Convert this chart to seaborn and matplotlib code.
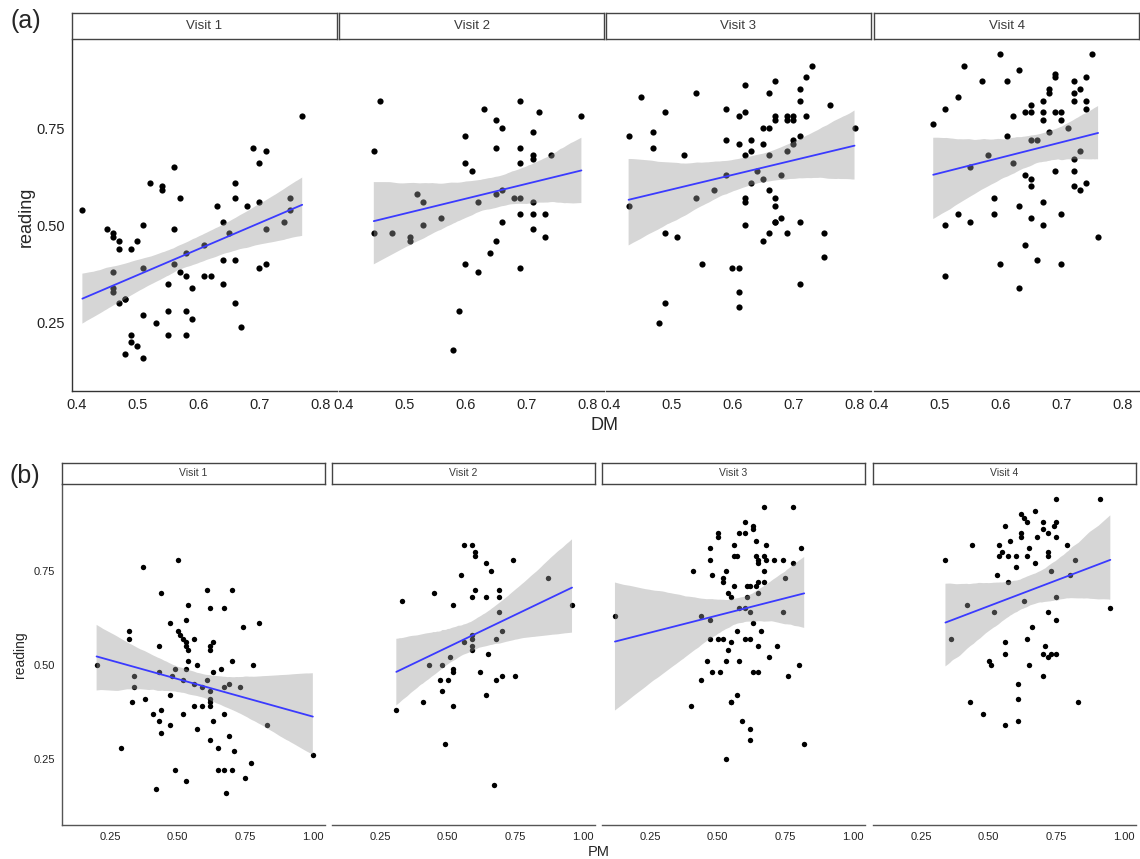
import numpy as np
import pandas as pd
import matplotlib
matplotlib.use("Agg")
import matplotlib.pyplot as plt
import seaborn as sns

sns.set_style("white")
plt.rcParams['font.family'] = ['Liberation Sans', 'DejaVu Sans']

# =========================
# Data
# =========================
visits = ["Visit 1", "Visit 2", "Visit 3", "Visit 4"]

# (a) reading vs DM
dm_v1_x = [.41, .77, .69, .71, .70, .56, .52, .54, .54, .57, .66, .66, .63, .68, .70, .75, .75, .74, .71, .64,
           .65, .61, .58, .56, .51, .50, .45, .46, .46, .47, .47, .49, .51, .46, .46, .46, .48, .48, .47, .56,
           .57, .55, .58, .61, .62, .59, .64, .64, .66, .70, .71, .66, .67, .51, .53, .55, .55, .58, .59, .58,
           .49, .49, .50, .48, .51]
dm_v1_y = [.54, .78, .70, .69, .66, .65, .61, .60, .59, .57, .61, .57, .55, .55, .56, .57, .54, .51, .49, .51,
           .48, .45, .43, .49, .50, .46, .49, .48, .47, .46, .44, .44, .39, .38, .34, .33, .31, .31, .30, .40,
           .38, .35, .37, .37, .37, .34, .41, .35, .41, .39, .40, .30, .24, .27, .25, .28, .22, .28, .26, .22,
           .22, .20, .19, .17, .16]

dm_v2_x = [.46, .45, .63, .69, .72, .79, .65, .66, .71, .60, .65, .69, .71, .71, .74, .69, .60, .61, .52, .53,
           .65, .66, .68, .69, .71, .62, .56, .53, .45, .48, .51, .51, .69, .71, .73, .66, .71, .73, .65, .64,
           .60, .62, .69, .59, .58]
dm_v2_y = [.82, .69, .80, .82, .79, .78, .77, .75, .74, .73, .70, .70, .68, .67, .68, .66, .66, .64, .58, .56,
           .58, .59, .57, .57, .56, .56, .52, .50, .48, .48, .47, .46, .53, .53, .53, .51, .49, .47, .46, .43,
           .40, .38, .39, .28, .18]

dm_v3_x = [.73, .72, .67, .62, .71, .66, .54, .45, .71, .76, .59, .49, .62, .61, .69, .70, .72, .67, .67, .69,
           .70, .65, .66, .80, .47, .43, .59, .63, .71, .70, .70, .47, .61, .65, .63, .62, .52, .69, .66, .64,
           .59, .65, .68, .63, .57, .54, .43, .66, .67, .62, .62, .67, .68, .67, .67, .71, .62, .66, .69, .75,
           .49, .51, .65, .75, .55, .60, .61, .71, .61, .49, .61, .48]
dm_v3_y = [.91, .88, .87, .86, .85, .84, .84, .83, .82, .81, .80, .79, .79, .78, .78, .78, .78, .78, .77, .77,
           .77, .75, .75, .75, .74, .73, .72, .72, .73, .72, .71, .70, .71, .71, .69, .68, .68, .69, .68, .64,
           .63, .62, .63, .61, .59, .57, .55, .59, .57, .57, .56, .55, .52, .51, .51, .51, .50, .48, .48, .48,
           .48, .47, .46, .42, .40, .39, .39, .35, .33, .30, .29, .25]

dm_v4_x = [.75, .60, .54, .63, .69, .69, .74, .57, .61, .72, .73, .68, .68, .72, .53, .67, .72, .74, .65, .51,
           .74, .64, .65, .67, .69, .70, .62, .67, .70, .49, .68, .71, .61, .65, .66, .73, .58, .62, .72, .55,
           .64, .69, .72, .65, .65, .72, .73, .74, .59, .67, .63, .53, .59, .70, .55, .51, .65, .67, .76, .64,
           .60, .66, .70, .51, .63]
dm_v4_y = [.94, .94, .91, .90, .89, .88, .88, .87, .87, .87, .85, .85, .84, .84, .83, .82, .82, .82, .81, .80,
           .80, .79, .79, .79, .79, .79, .78, .77, .77, .76, .74, .75, .73, .72, .72, .69, .68, .66, .67, .65,
           .63, .64, .64, .62, .60, .60, .59, .61, .57, .56, .55, .53, .53, .53, .51, .50, .52, .50, .47, .45,
           .40, .41, .40, .37, .34]

# (b) reading vs PM
pm_v1_x = [.50, .37, .61, .70, .44, .54, .62, .67, .53, .80, .47, .74, .32, .32, .50, .51, .52, .56, .53, .53,
           .54, .63, .62, .62, .43, .20, .54, .57, .70, .78, .53, .49, .66, .63, .43, .48, .34, .52, .61, .34,
           .56, .59, .67, .69, .73, .62, .47, .62, .33, .38, .62, .56, .59, .62, .41, .52, .44, .67, .43, .63,
           .47, .83, .57, .44, .69, .62, .65, .29, .71, 1.00, .77, .49, .65, .67, .70, .75, .53, .42, .68]
pm_v1_y = [.78, .76, .70, .70, .69, .66, .65, .65, .62, .61, .61, .60, .59, .57, .59, .58, .57, .57, .56, .55,
           .54, .56, .55, .54, .55, .50, .51, .50, .51, .50, .49, .49, .49, .48, .48, .47, .47, .46, .46, .44,
           .45, .44, .44, .45, .44, .43, .42, .41, .40, .41, .40, .39, .39, .39, .37, .37, .38, .37, .35, .35,
           .34, .34, .33, .32, .31, .30, .28, .28, .27, .26, .24, .22, .22, .22, .22, .20, .19, .17, .16]

pm_v2_x = [.56, .59, .60, .60, .74, .64, .66, .55, .87, .60, .69, .45, .64, .59, .69, .33, .52, .96, .69, .70,
           .59, .59, .68, .56, .59, .59, .65, .51, .43, .48, .52, .52, .62, .70, .75, .47, .50, .68, .48, .64,
           .41, .52, .31, .49, .67]
pm_v2_y = [.82, .82, .80, .79, .78, .77, .75, .74, .73, .70, .70, .69, .68, .68, .68, .67, .66, .66, .64, .59,
           .58, .57, .57, .56, .55, .54, .53, .52, .50, .50, .49, .48, .48, .47, .47, .46, .46, .46, .43, .42,
           .40, .39, .38, .29, .18]

pm_v3_x = [.67, .78, .60, .63, .50, .50, .58, .60, .63, .64, .56, .68, .81, .47, .47, .56, .57, .64, .65, .65,
           .67, .68, .71, .74, .78, .41, .48, .53, .67, .52, .52, .56, .65, .67, .75, .61, .62, .64, .54, .55,
           .65, .61, .12, .44, .47, .58, .60, .62, .74, .63, .66, .57, .47, .50, .52, .55, .60, .62, .54, .65,
           .72, .69, .46, .53, .58, .80, .48, .51, .63, .65, .76, .44, .40, .55, .55, .57, .59, .62, .62, .82,
           .53]
pm_v3_y = [.92, .92, .88, .87, .85, .84, .85, .85, .86, .83, .82, .82, .81, .81, .78, .79, .79, .79, .78, .77,
           .79, .78, .78, .78, .77, .75, .74, .75, .75, .73, .72, .71, .72, .72, .73, .71, .71, .71, .69, .68,
           .69, .68, .63, .63, .62, .65, .65, .64, .64, .61, .59, .59, .57, .57, .57, .56, .57, .57, .54, .55,
           .55, .52, .51, .51, .51, .50, .48, .48, .48, .48, .47, .46, .39, .40, .40, .42, .35, .33, .30, .29,
           .25]

pm_v4_x = [.75, .91, .67, .62, .63, .64, .56, .70, .75, .74, .62, .62, .70, .72, .68, .75, .58, .44, .54, .79,
           .65, .55, .54, .57, .60, .64, .72, .72, .82, .34, .67, .60, .73, .53, .57, .80, .63, .75, .42, .52,
           .72, .95, .75, .66, .36, .64, .56, .71, .56, .70, .73, .75, .72, .50, .51, .65, .70, .61, .43, .61,
           .83, .48, .61, .56]
pm_v4_y = [.94, .94, .91, .90, .89, .88, .87, .88, .88, .87, .85, .84, .86, .85, .84, .84, .83, .82, .82, .82,
           .81, .80, .79, .79, .79, .79, .80, .79, .78, .78, .77, .76, .75, .74, .72, .74, .67, .68, .66, .64,
           .64, .65, .62, .60, .57, .57, .56, .55, .53, .53, .53, .53, .52, .51, .50, .50, .47, .45, .40, .41,
           .40, .37, .35, .34]

dm_ticks = [0.4, 0.5, 0.6, 0.7, 0.8]
dm_ticklabels = ["0.4", "0.5", "0.6", "0.7", "0.8"]
pm_ticks = [0.25, 0.50, 0.75, 1.00]
pm_ticklabels = ["0.25", "0.50", "0.75", "1.00"]
reading_ticks = [0.25, 0.50, 0.75]
reading_ticklabels = ["0.25", "0.50", "0.75"]

# long table
frames = []
for measure, xs, ys in [
    ("DM", [dm_v1_x, dm_v2_x, dm_v3_x, dm_v4_x], [dm_v1_y, dm_v2_y, dm_v3_y, dm_v4_y]),
    ("PM", [pm_v1_x, pm_v2_x, pm_v3_x, pm_v4_x], [pm_v1_y, pm_v2_y, pm_v3_y, pm_v4_y]),
]:
    for v, x, y in zip(visits, xs, ys):
        frames.append(pd.DataFrame({"measure": measure, "visit": v, "x": x, "reading": y}))
df = pd.concat(frames, ignore_index=True)

# =========================
# Layout (pixel based)
# =========================
W, H = 1140, 859
fig = plt.figure(figsize=(W / 100, H / 100), dpi=100)
fig.patch.set_facecolor("white")


def px_axes(left, top, width, height):
    return fig.add_axes([left / W, 1 - (top + height) / H, width / W, height / H])


rows = [
    dict(measure="DM", lefts=[72, 339, 606, 874], width=265, top=40, height=351,
         strip_top=13, strip_h=26, xlim=(0.393, 0.827), ylim=(0.075, 0.976),
         xticks=dm_ticks, xticklabels=dm_ticklabels, tick_fs=10.5, strip_fs=9.5,
         axis_color="#333333", pt=20),
    dict(measure="PM", lefts=[62, 332, 602, 873], width=263, top=484, height=341,
         strip_top=463, strip_h=21, xlim=(0.072, 1.045), ylim=(0.074, 0.981),
         xticks=pm_ticks, xticklabels=pm_ticklabels, tick_fs=8, strip_fs=7.5,
         axis_color="#555555", pt=15),
]

for r in rows:
    for i, v in enumerate(visits):
        sub = df[(df["measure"] == r["measure"]) & (df["visit"] == v)]
        ax = px_axes(r["lefts"][i], r["top"], r["width"], r["height"])
        sns.regplot(data=sub, x="x", y="reading", ax=ax, ci=95, n_boot=1000, seed=7,
                    scatter_kws=dict(s=r["pt"], color="black", linewidths=0, alpha=1),
                    line_kws=dict(color="#3a3aff", lw=1.3))
        band = ax.collections[-1]
        band.set_facecolor("#999999")
        band.set_alpha(0.4)
        band.set_edgecolor("none")

        ax.set_xlim(*r["xlim"])
        ax.set_ylim(*r["ylim"])
        ax.set_xticks(r["xticks"])
        ax.set_xticklabels(r["xticklabels"])
        ax.set_xlabel("")
        ax.set_ylabel("")
        for s in ["top", "right"]:
            ax.spines[s].set_visible(False)
        ax.spines["bottom"].set_color(r["axis_color"])
        ax.spines["bottom"].set_linewidth(1.0)
        ax.tick_params(axis="x", direction="out", length=3, width=0.8, color=r["axis_color"],
                       labelsize=r["tick_fs"], labelcolor="#222222", pad=2)
        if i == 0:
            ax.spines["left"].set_color(r["axis_color"])
            ax.spines["left"].set_linewidth(1.0)
            ax.set_yticks(reading_ticks)
            ax.set_yticklabels(reading_ticklabels)
            ax.tick_params(axis="y", direction="out", length=3, width=0.8, color=r["axis_color"],
                           labelsize=r["tick_fs"], labelcolor="#222222", pad=2)
        else:
            ax.spines["left"].set_visible(False)
            ax.set_yticks([])

        # facet strip
        sax = px_axes(r["lefts"][i], r["strip_top"], r["width"], r["strip_h"])
        sax.set_xticks([])
        sax.set_yticks([])
        sax.set_facecolor("white")
        for s in sax.spines.values():
            s.set_color("#444444")
            s.set_linewidth(1.0)
        sax.text(0.5, 0.5, v, ha="center", va="center", fontsize=r["strip_fs"],
                 color="#3a3a3a", transform=sax.transAxes)

# panel tags and axis titles
fig.text(26 / W, 1 - 21 / H, "(a)", fontsize=18, ha="center", va="center")
fig.text(25 / W, 1 - 476 / H, "(b)", fontsize=18, ha="center", va="center")
fig.text(26 / W, 1 - 217 / H, "reading", fontsize=13, rotation=90, ha="center", va="center")
fig.text(20 / W, 1 - 655 / H, "reading", fontsize=10, rotation=90, ha="center", va="center")
fig.text(604 / W, 1 - 425 / H, "DM", fontsize=13, ha="center", va="center")
fig.text(599 / W, 1 - 852 / H, "PM", fontsize=10.5, ha="center", va="center")

fig.savefig("out.png", dpi=100, facecolor="white")
